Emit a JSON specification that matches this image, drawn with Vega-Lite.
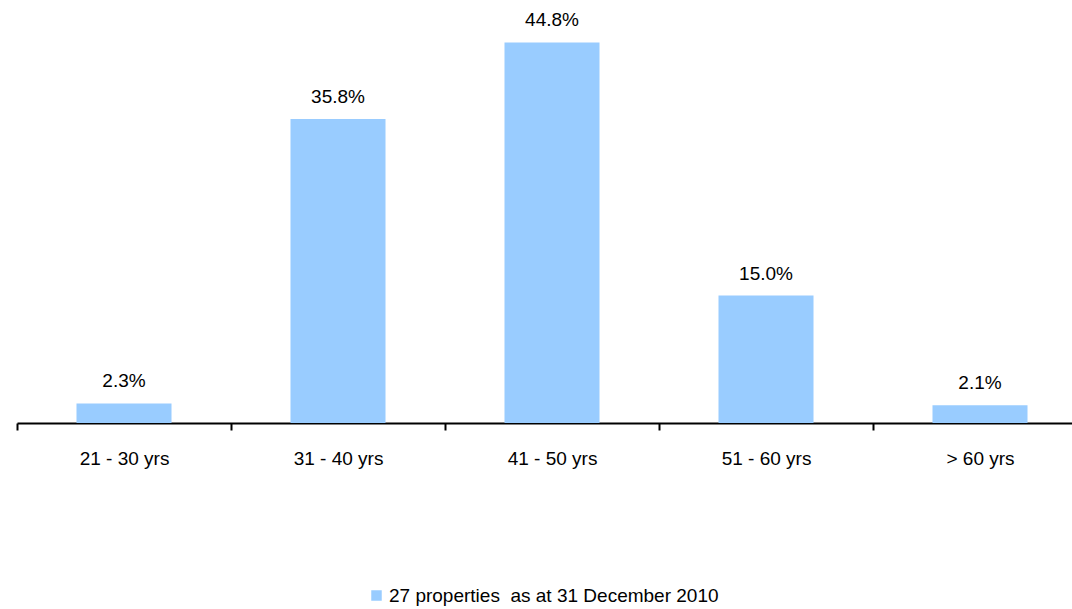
{
  "$schema": "https://vega.github.io/schema/vega-lite/v6.json",
  "autosize": "none",
  "padding": {"left": 17, "top": 0, "right": 0, "bottom": 186},
  "width": 1070,
  "height": 423,
  "background": "white",
  "config": {"view": {"stroke": null}, "font": "Liberation Sans"},
  "data": {"values": [
    {"age": "21 - 30 yrs", "pct": 2.3, "label": "2.3%", "series": "27 properties\u00a0 as at 31 December 2010"},
    {"age": "31 - 40 yrs", "pct": 35.8, "label": "35.8%", "series": "27 properties\u00a0 as at 31 December 2010"},
    {"age": "41 - 50 yrs", "pct": 44.8, "label": "44.8%", "series": "27 properties\u00a0 as at 31 December 2010"},
    {"age": "51 - 60 yrs", "pct": 15.0, "label": "15.0%", "series": "27 properties\u00a0 as at 31 December 2010"},
    {"age": "> 60 yrs", "pct": 2.1, "label": "2.1%", "series": "27 properties\u00a0 as at 31 December 2010"}
  ]},
  "encoding": {
    "x": {"field": "age", "type": "nominal", "sort": null,
      "scale": {"paddingInner": 0, "paddingOuter": 0},
      "axis": {"title": null, "labelAngle": 0, "labelFontSize": 19, "labelColor": "black", "labelPadding": 19,
        "domainColor": "black", "domainWidth": 2, "tickColor": "black", "tickWidth": 2, "tickSize": 7, "tickBand": "extent", "labelFont": "Liberation Sans"}},
    "y": {"field": "pct", "type": "quantitative", "scale": {"domain": [0, 49.8], "nice": false}, "axis": null}
  },
  "layer": [
    {"mark": {"type": "bar", "color": "#99CCFF", "width": {"band": 0.444}},
     "encoding": {"color": {"field": "series", "type": "nominal", "scale": {"range": ["#99CCFF"]},
       "legend": {"title": null, "orient": "none", "legendX": 350, "legendY": 586, "symbolType": "square", "symbolSize": 110, "symbolStrokeWidth": 0, "labelFontSize": 19, "labelColor": "black", "labelFont": "Liberation Sans", "labelLimit": 500, "labelOffset": 3}}}},
    {"mark": {"type": "text", "dy": -12, "baseline": "bottom", "fontSize": 19, "color": "black", "font": "Liberation Sans"},
     "encoding": {"text": {"field": "label"}}}
  ]
}
